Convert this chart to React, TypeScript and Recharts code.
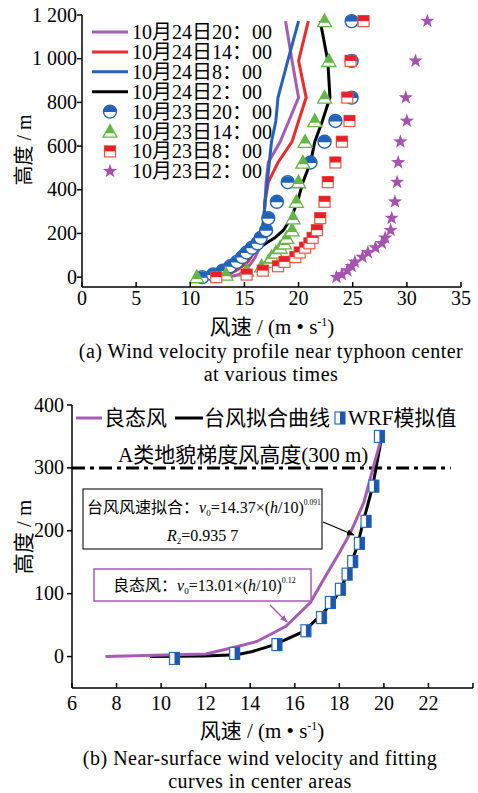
import React from "react";
import { ComposedChart, Line, Scatter, XAxis, YAxis, ReferenceLine } from "recharts";

const FONT = "'Liberation Serif', 'Noto Sans CJK SC', serif";

// (a) 台风中心附近各时刻风速廓线 — heights (m) shared by every profile
const levelsA = [0, 12, 30, 50, 70, 92, 113, 135, 155, 180, 215, 270, 345, 435, 525, 620, 715, 822, 990, 1172];
const oct24h20 = [13.5, 14.5, 15.0, 15.4, 15.7, 16.0, 16.2, 16.4, 16.5, 16.6, 16.7, 16.8, 16.9, 17.0, 17.2, 18.3, 19.1, 20.0, 19.4, 18.8];
const oct24h14 = [13.0, 13.5, 14.2, 14.8, 15.3, 15.6, 15.9, 16.2, 16.4, 16.5, 16.7, 16.8, 16.9, 17.2, 18.1, 19.4, 20.0, 20.7, 20.0, 20.9];
const oct24h8 = [11.5, 12.3, 13.0, 13.7, 14.3, 14.8, 15.3, 15.8, 16.2, 16.4, 16.6, 16.8, 16.9, 17.1, 17.3, 17.5, 17.9, 18.1, 19.0, 20.0];
const oct24h2 = [12.3, 12.7, 13.0, 13.5, 14.2, 15.0, 15.6, 16.4, 17.0, 17.8, 18.6, 19.3, 19.9, 20.4, 21.1, 21.5, 22.2, 22.9, 22.7, 22.0];
const oct23h20 = [11.1, 12.1, 13.0, 13.7, 14.3, 14.8, 15.2, 15.7, 16.2, 16.5, 17.0, 17.2, 18.0, 19.0, 21.1, 22.4, 23.4, 24.9, 24.9, 24.9];
const oct23h14 = [10.6, 13.3, 15.2, 16.6, 17.2, 17.5, 17.9, 18.3, 18.7, 18.9, 19.4, 19.5, 19.8, 20.0, 20.4, 20.6, 21.5, 22.4, 22.8, 22.4];
const oct23h8 = [12.4, 15.2, 16.7, 18.1, 18.7, 19.7, 20.1, 20.6, 21.0, 21.3, 21.7, 22.0, 22.4, 22.7, 23.4, 24.0, 24.7, 24.5, 24.8, 26.0];
const oct23h2 = [23.5, 24.0, 24.5, 24.9, 25.2, 25.9, 26.4, 27.1, 27.7, 28.0, 28.5, 28.6, 28.9, 29.1, 29.2, 29.4, 30.0, 29.9, 30.8, 31.9];

const legendA = [
  "10月24日20：00",
  "10月24日14：00",
  "10月24日8：00",
  "10月24日2：00",
  "10月23日20：00",
  "10月23日14：00",
  "10月23日8：00",
  "10月23日2：00",
];
const xTicksA = [0, 5, 10, 15, 20, 25, 30, 35];
const yTicksA = [0, 200, 400, 600, 800, 1000, 1200];

// (b) 中心区域近地面风速与拟合曲线
const goodH = [0, 4, 14, 24, 48, 86, 123, 165, 197, 245, 298, 349];
const goodV = [7.5, 12.0, 13.2, 14.3, 15.6, 16.7, 17.3, 18.0, 18.5, 19.1, 19.5, 19.9];
const fitH = [0, 1, 3, 8, 19, 40, 70, 102, 135, 175, 218, 271, 349];
const fitV = [9.5, 11.9, 13.4, 14.1, 15.1, 16.4, 17.3, 18.0, 18.4, 18.8, 19.1, 19.5, 19.9];
const wrfH = [-3, 5, 19, 41, 62, 86, 107, 131, 151, 180, 215, 271, 350];
const wrfV = [10.6, 13.3, 15.2, 16.5, 17.2, 17.6, 18.05, 18.35, 18.6, 18.9, 19.2, 19.55, 19.8];
const xTicksB = [6, 8, 10, 12, 14, 16, 18, 20, 22, 24];
const yTicksB = [0, 100, 200, 300, 400];

const PURPLE = "#a65cb4";
const RED = "#ee2a2a";
const BLUE = "#2262b8";
const GREEN = "#63b845";

const zip = (hs: number[], vs: number[]) => hs.map((h, i) => ({ h, v: vs[i] }));

function HalfCircle({ cx, cy }: any) {
  if (cx == null || cy == null) return null;
  const r = 6.5;
  return (
    <g>
      <circle cx={cx} cy={cy} r={r} fill="#fff" stroke={BLUE} strokeWidth={1.4} />
      <path d={`M${cx - r},${cy + 0.5} A${r},${r} 0 0 1 ${cx + r},${cy + 0.5} Z`} fill={BLUE} />
    </g>
  );
}

function HalfTri({ cx, cy }: any) {
  if (cx == null || cy == null) return null;
  const s = 7;
  return (
    <g>
      <polygon points={`${cx},${cy - s} ${cx + s},${cy + s * 0.8} ${cx - s},${cy + s * 0.8}`} fill="#fff" stroke={GREEN} strokeWidth={1.3} />
      <polygon points={`${cx},${cy - s} ${cx + s * 0.69},${cy + s * 0.25} ${cx - s * 0.69},${cy + s * 0.25}`} fill={GREEN} />
    </g>
  );
}

function HalfSquare({ cx, cy }: any) {
  if (cx == null || cy == null) return null;
  return (
    <g>
      <rect x={cx - 5.5} y={cy - 5.5} width={11} height={11} fill="#fff" stroke="#f2553f" strokeWidth={1.2} />
      <rect x={cx - 5.5} y={cy - 5.5} width={11} height={5.5} fill="#e8202a" />
    </g>
  );
}

function Star({ cx, cy }: any) {
  if (cx == null || cy == null) return null;
  const pts = [];
  for (let i = 0; i < 10; i++) {
    const a = (-90 + i * 36) * (Math.PI / 180);
    const r = i % 2 ? 3 : 7.5;
    pts.push(`${cx + r * Math.cos(a)},${cy + r * Math.sin(a)}`);
  }
  return <polygon points={pts.join(" ")} fill="#a653b0" />;
}

function WrfSquare({ cx, cy }: any) {
  if (cx == null || cy == null) return null;
  return (
    <g>
      <rect x={cx - 5} y={cy - 6} width={10} height={12} fill="#fff" stroke="#2a6ac4" strokeWidth={1.2} />
      <rect x={cx} y={cy - 6} width={5} height={12} fill="#1c58b0" />
    </g>
  );
}

function XTick({ x, y, payload, fs, dy, hide }: any) {
  return (
    <g>
      <line x1={x} x2={x} y1={y} y2={y - 5} stroke="#000" strokeWidth={1.5} />
      {!hide?.includes(payload.value) && (
        <text x={x} y={y + dy} textAnchor="middle" fontSize={fs} fontFamily={FONT} fill="#000">
          {payload.value}
        </text>
      )}
    </g>
  );
}

function YTick({ x, y, payload, fs, gap, fmt }: any) {
  return (
    <g>
      <line x1={x - 5} x2={x} y1={y} y2={y} stroke="#000" strokeWidth={1.5} />
      <text x={x - gap} y={y + fs * 0.33} textAnchor="end" fontSize={fs} fontFamily={FONT} fill="#000">
        {fmt ? fmt(payload.value) : payload.value}
      </text>
    </g>
  );
}

const thousands = (v: number) => (v >= 1000 ? `${Math.floor(v / 1000)}\u00a0${String(v % 1000).padStart(3, "0")}` : String(v));
const axisLine = { stroke: "#000", strokeWidth: 1.5 };

function ChartA() {
  return (
    <ComposedChart width={478} height={345} margin={{ top: 15, right: 17, left: 0, bottom: 0 }}>
      <XAxis type="number" dataKey="v" domain={[0, 35]} ticks={xTicksA} interval={0} height={58} axisLine={axisLine} tickLine={false} tickSize={0} tickMargin={0} tick={(p: any) => <XTick {...p} fs={20} dy={18} />} />
      <YAxis type="number" dataKey="h" domain={[-45, 1200]} ticks={yTicksA} interval={0} width={82} axisLine={axisLine} tickLine={false} tickSize={0} tickMargin={0} tick={(p: any) => <YTick {...p} fs={20} gap={5} fmt={thousands} />} />
      <Line data={zip(levelsA, oct24h20)} dataKey="h" type="linear" stroke={PURPLE} strokeWidth={3} dot={false} isAnimationActive={false} />
      <Line data={zip(levelsA, oct24h14)} dataKey="h" type="linear" stroke={RED} strokeWidth={3} dot={false} isAnimationActive={false} />
      <Line data={zip(levelsA, oct24h8)} dataKey="h" type="linear" stroke={BLUE} strokeWidth={3} dot={false} isAnimationActive={false} />
      <Line data={zip(levelsA, oct24h2)} dataKey="h" type="linear" stroke="#000" strokeWidth={3} dot={false} isAnimationActive={false} />
      <Scatter data={zip(levelsA, oct23h20)} dataKey="h" shape={(p: any) => <HalfCircle {...p} />} isAnimationActive={false} />
      <Scatter data={zip(levelsA, oct23h14)} dataKey="h" shape={(p: any) => <HalfTri {...p} />} isAnimationActive={false} />
      <Scatter data={zip(levelsA, oct23h8)} dataKey="h" shape={(p: any) => <HalfSquare {...p} />} isAnimationActive={false} />
      <Scatter data={zip(levelsA, oct23h2)} dataKey="h" shape={(p: any) => <Star {...p} />} isAnimationActive={false} />
    </ComposedChart>
  );
}

function ChartB() {
  return (
    <ComposedChart width={478} height={330} margin={{ top: 15, right: 5, left: 0, bottom: 0 }}>
      <XAxis type="number" dataKey="v" domain={[6, 24]} ticks={xTicksB} interval={0} height={32} axisLine={axisLine} tickLine={false} tickSize={0} tickMargin={0} tick={(p: any) => <XTick {...p} fs={20} dy={22} hide={[24]} />} />
      <YAxis type="number" dataKey="h" domain={[-50, 400]} ticks={yTicksB} interval={0} width={72} axisLine={axisLine} tickLine={false} tickSize={0} tickMargin={0} tick={(p: any) => <YTick {...p} fs={20} gap={8} />} />
      <ReferenceLine segment={[{ x: 6, y: 300 }, { x: 23, y: 300 }]} stroke="#000" strokeWidth={3} strokeDasharray="13 5 4 5" />
      <Line data={zip(fitH, fitV)} dataKey="h" type="linear" stroke="#000" strokeWidth={3} dot={false} isAnimationActive={false} />
      <Line data={zip(goodH, goodV)} dataKey="h" type="linear" stroke={PURPLE} strokeWidth={3} dot={false} isAnimationActive={false} />
      <Scatter data={zip(wrfH, wrfV)} dataKey="h" shape={(p: any) => <WrfSquare {...p} />} isAnimationActive={false} />
    </ComposedChart>
  );
}

function Overlay() {
  const lineColors = [PURPLE, RED, BLUE, "#000"];
  const markers = [HalfCircle, HalfTri, HalfSquare, Star];
  return (
    <svg width={478} height={793} style={{ position: "absolute", left: 0, top: 0, pointerEvents: "none" }} fontFamily={FONT}>
      <defs>
        <marker id="arrK" viewBox="0 0 10 10" refX="9" refY="5" markerWidth="6" markerHeight="6" orient="auto">
          <path d="M0,1 L10,5 L0,9 z" fill="#000" />
        </marker>
        <marker id="arrP" viewBox="0 0 10 10" refX="9" refY="5" markerWidth="5" markerHeight="5" orient="auto">
          <path d="M0,1 L10,5 L0,9 z" fill={PURPLE} />
        </marker>
      </defs>

      {/* (a) legend */}
      {legendA.map((lab, i) => {
        const cy = 32 + i * 19.9;
        const M = markers[i - 4];
        return (
          <g key={lab}>
            {i < 4 ? (
              <line x1={92} x2={128} y1={cy} y2={cy} stroke={lineColors[i]} strokeWidth={3} />
            ) : (
              <M cx={110} cy={cy} />
            )}
            <text x={132} y={cy + 7} fontSize={20}>{lab}</text>
          </g>
        );
      })}

      {/* (a) axis titles and caption */}
      <text transform="translate(31,150) rotate(-90)" textAnchor="middle" fontSize={20}>高度 / m</text>
      <text x={272} y={334} textAnchor="middle" fontSize={21}>
        风速 / (m • s<tspan fontSize={12} dy={-8}>-1</tspan><tspan dy={8}>)</tspan>
      </text>
      <text x={271} y={358} textAnchor="middle" fontSize={20} letterSpacing={0.5}>(a) Wind velocity profile near typhoon center</text>
      <text x={271} y={381} textAnchor="middle" fontSize={20} letterSpacing={0.5}>at various times</text>

      {/* (b) legend */}
      <line x1={76} x2={102} y1={418} y2={418} stroke={PURPLE} strokeWidth={3} />
      <text x={104} y={425} fontSize={21}>良态风</text>
      <line x1={175} x2={203} y1={418} y2={418} stroke="#000" strokeWidth={3} />
      <text x={204} y={425} fontSize={21}>台风拟合曲线</text>
      <WrfSquare cx={340} cy={418} />
      <text x={348} y={425} fontSize={21}>WRF模拟值</text>
      <text x={118} y={462} fontSize={21}>A类地貌梯度风高度(300 m)</text>

      {/* (b) annotation boxes */}
      <rect x={83} y={489} width={239} height={60} fill="#fff" stroke="#222" strokeWidth={1.2} />
      <text x={87} y={513} fontSize={16}>
        台风风速拟合：<tspan fontStyle="italic">v</tspan><tspan fontSize={9} dy={3}>0</tspan>
        <tspan dy={-3}>=14.37×(</tspan><tspan fontStyle="italic">h</tspan><tspan>/10)</tspan>
        <tspan fontSize={7.5} dy={-8}>0.091</tspan>
      </text>
      <text x={167} y={541} fontSize={16}>
        <tspan fontStyle="italic">R</tspan><tspan fontSize={9} dy={3}>2</tspan><tspan dy={-3}>=0.935 7</tspan>
      </text>
      <line x1={323} y1={522} x2={354} y2={535} stroke="#000" strokeWidth={1.3} markerEnd="url(#arrK)" />

      <rect x={94} y={569} width={217} height={32} fill="#fff" stroke={PURPLE} strokeWidth={1.5} />
      <text x={113} y={591} fontSize={16}>
        良态风：<tspan fontStyle="italic">v</tspan><tspan fontSize={9} dy={3}>0</tspan>
        <tspan dy={-3}>=13.01×(</tspan><tspan fontStyle="italic">h</tspan><tspan>/10)</tspan>
        <tspan fontSize={8} dy={-8}>0.12</tspan>
      </text>
      <line x1={270} y1={605} x2={287} y2={622} stroke={PURPLE} strokeWidth={1.5} markerEnd="url(#arrP)" />

      {/* (b) axis titles and caption */}
      <text transform="translate(31,537) rotate(-90)" textAnchor="middle" fontSize={21}>高度 / m</text>
      <text x={262} y={738} textAnchor="middle" fontSize={21}>
        风速 / (m • s<tspan fontSize={12} dy={-8}>-1</tspan><tspan dy={8}>)</tspan>
      </text>
      <text x={260} y={765} textAnchor="middle" fontSize={20} letterSpacing={0.5}>(b) Near-surface wind velocity and fitting</text>
      <text x={260} y={788} textAnchor="middle" fontSize={20} letterSpacing={0.5}>curves in center areas</text>
    </svg>
  );
}

export default function App() {
  return (
    <div style={{ position: "absolute", left: 0, top: 0, width: 478, height: 793, background: "#fff", fontFamily: FONT }}>
      <div style={{ position: "absolute", left: 0, top: 0 }}>
        <ChartA />
      </div>
      <div style={{ position: "absolute", left: 0, top: 390 }}>
        <ChartB />
      </div>
      <Overlay />
    </div>
  );
}
